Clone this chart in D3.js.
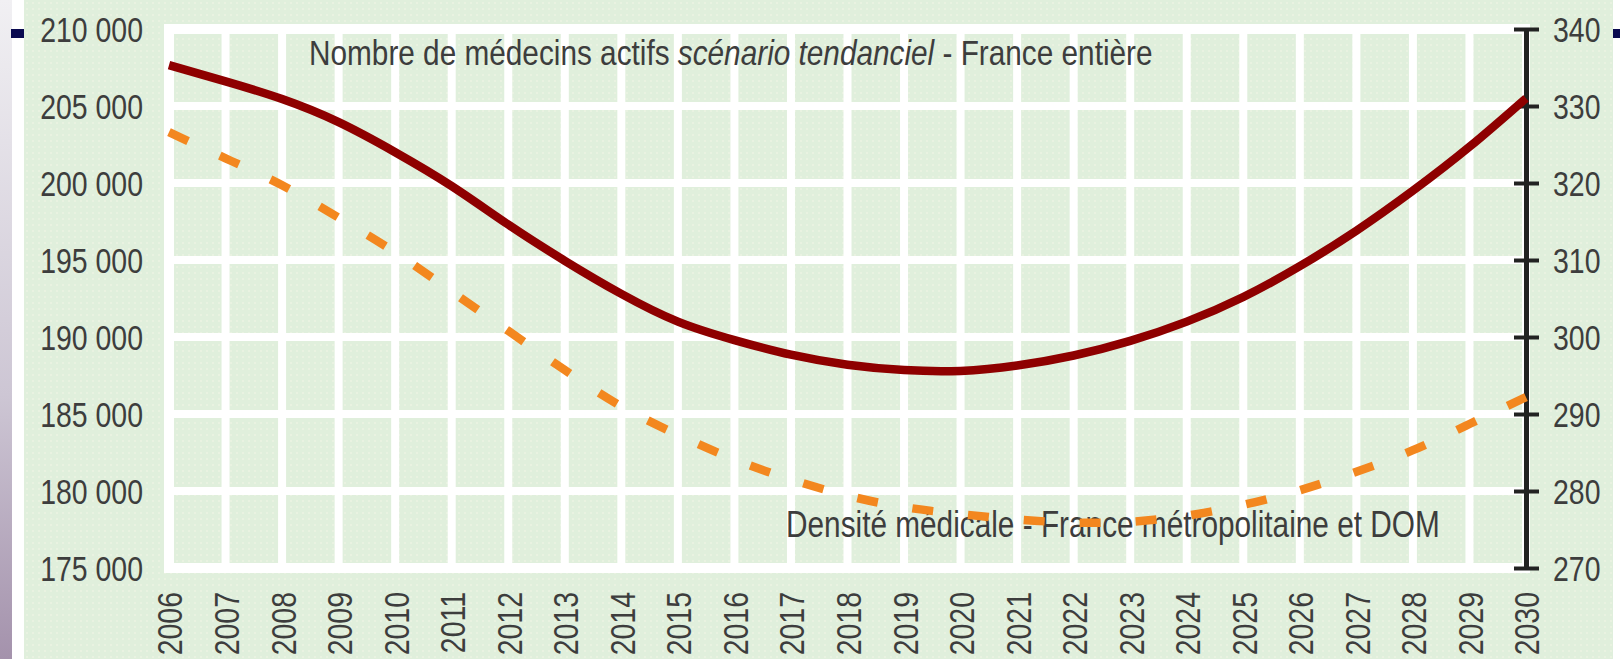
<!DOCTYPE html>
<html>
<head>
<meta charset="utf-8">
<script src="https://cdn.jsdelivr.net/npm/d3@7"></script>
<style>
  html, body { margin: 0; padding: 0; background: #fff; overflow: hidden; }
  svg { display: block; }
</style>
</head>
<body>
<div id="chart"></div>
<script>
// Médecins actifs (left axis) and densité médicale (right axis), 2006-2030
const years = ["2006", "2007", "2008", "2009", "2010", "2011", "2012", "2013", "2014", "2015",
    "2016", "2017", "2018", "2019", "2020", "2021", "2022", "2023", "2024", "2025",
    "2026", "2027", "2028", "2029", "2030"];

const medecins = [207650, 206600, 205450, 203950, 202000, 199800, 197300, 194950, 192800, 191000,
    189800, 188850, 188200, 187850, 187800, 188150, 188800, 189750, 191000, 192600,
    194600, 196900, 199500, 202350, 205500];

const densite = [326.6, 323.2, 319.7, 315.5, 311.0, 305.9, 300.8, 295.7, 291.0, 287.3,
    284.1, 281.5, 279.4, 277.9, 277.0, 276.3, 275.9, 276.0, 276.8, 278.2,
    280.1, 282.5, 285.3, 288.7, 292.2];

const leftTicks = [175000, 180000, 185000, 190000, 195000, 200000, 205000, 210000];
const rightTicks = [270, 280, 290, 300, 310, 320, 330, 340];

const titleMain = "Nombre de médecins actifs ";
const titleItalic = "scénario tendanciel";
const titleEnd = " - France entière";
const labelDensite = "Densité médicale - France métropolitaine et DOM";

const width = 1620;
const height = 659;
const plot = { left: 169, right: 1526, top: 29, bottom: 568 };
const textColor = "#3d3d3d";
const squeeze = 0.79; // narrow, tall lettering of the source

const fr = d3.formatLocale({ decimal: ",", thousands: " ", grouping: [3], currency: ["", " €"] });
const fmt = fr.format(",d");

const svg = d3.select("#chart")
    .append("svg")
    .attr("width", width)
    .attr("height", height)
    .style("font-family", "'Liberation Sans', Arial, sans-serif");

const defs = svg.append("defs");

// dotted pale green paper
const dots = defs.append("pattern")
    .attr("id", "dots")
    .attr("width", 6).attr("height", 6)
    .attr("patternUnits", "userSpaceOnUse");
dots.append("rect").attr("width", 6).attr("height", 6).attr("fill", "#e0efdc");
dots.append("rect").attr("x", 2).attr("y", 2).attr("width", 2).attr("height", 2).attr("fill", "#e9f2e1");

const edge = defs.append("linearGradient")
    .attr("id", "edge")
    .attr("x1", 0).attr("y1", 0).attr("x2", 0).attr("y2", 1);
edge.append("stop").attr("offset", "0%").attr("stop-color", "#f1f0f3");
edge.append("stop").attr("offset", "60%").attr("stop-color", "#cdc6d4");
edge.append("stop").attr("offset", "100%").attr("stop-color", "#a492ac");

// -- slide background --
svg.append("rect").attr("width", width).attr("height", height).attr("fill", "#fff");
svg.append("rect").attr("x", 0).attr("width", 12).attr("height", height).attr("fill", "url(#edge)");
svg.append("rect").attr("x", 24).attr("width", 1613 - 24).attr("height", height).attr("fill", "url(#dots)");
svg.append("rect").attr("x", 11).attr("y", 29).attr("width", 13).attr("height", 9).attr("fill", "#0a0a50");
svg.append("rect").attr("x", 1613).attr("y", 29).attr("width", 7).attr("height", 9).attr("fill", "#0a0a50");

// -- scales --
const x = d3.scalePoint().domain(years).range([plot.left, plot.right]);
const yL = d3.scaleLinear().domain([175000, 210000]).range([plot.bottom, plot.top]);
const yR = d3.scaleLinear().domain([270, 340]).range([plot.bottom, plot.top]);

// -- white grid --
const grid = svg.append("g").attr("stroke", "#fff");
grid.selectAll("line.v")
    .data(years)
    .join("line")
    .attr("class", "v")
    .attr("x1", d => x(d)).attr("x2", d => x(d))
    .attr("y1", plot.top - 5).attr("y2", plot.bottom + 5)
    .attr("stroke-width", (d, i) => i === 0 ? 10 : 8);
grid.selectAll("line.h")
    .data(leftTicks)
    .join("line")
    .attr("class", "h")
    .attr("x1", plot.left - 5).attr("x2", plot.right + 2)
    .attr("y1", d => yL(d)).attr("y2", d => yL(d))
    .attr("stroke-width", (d, i) => (i === 0 || i === leftTicks.length - 1) ? 10 : 8);

// -- left axis (labels only) --
const axisL = svg.append("g")
    .attr("transform", `translate(${plot.left},0)`)
    .call(d3.axisLeft(yL).tickValues(leftTicks).tickFormat(fmt).tickSize(0));
axisL.select(".domain").remove();
axisL.selectAll("text")
    .attr("x", 0)
    .attr("dy", "0.36em")
    .attr("transform", `translate(-26,0) scale(${squeeze},1)`)
    .attr("text-anchor", "end")
    .attr("fill", textColor)
    .style("font-size", "36px");

// -- right axis (black line with crossing ticks) --
const axisR = svg.append("g")
    .attr("transform", `translate(${plot.right},0)`)
    .call(d3.axisRight(yR).tickValues(rightTicks).tickSizeInner(13).tickSizeOuter(0));
axisR.select(".domain").attr("stroke", "#222").attr("stroke-width", 5);
axisR.selectAll(".tick line")
    .attr("x1", -12).attr("x2", 13)
    .attr("stroke", "#222").attr("stroke-width", 4);
axisR.selectAll("text")
    .attr("x", 0)
    .attr("dy", "0.36em")
    .attr("transform", `translate(27,0) scale(${squeeze},1)`)
    .attr("text-anchor", "start")
    .attr("fill", textColor)
    .style("font-size", "36px");

// -- bottom axis, vertical year labels --
const axisB = svg.append("g")
    .attr("transform", `translate(0,${plot.bottom})`)
    .call(d3.axisBottom(x).tickSize(0));
axisB.select(".domain").remove();
axisB.selectAll("text")
    .attr("x", 0).attr("y", 0)
    .attr("dy", "0.36em")
    .attr("transform", `translate(0,24) rotate(-90) scale(${squeeze},1)`)
    .attr("text-anchor", "end")
    .attr("fill", textColor)
    .style("font-size", "36px");

// -- series labels, squeezed to the source widths --
function placeLabel(textSel, left, baseline, targetWidth) {
    const natural = textSel.node().getComputedTextLength();
    textSel.attr("transform", `translate(${left},${baseline}) scale(${targetWidth / natural},1)`);
}

const title = svg.append("text")
    .attr("fill", textColor)
    .style("font-size", "36px");
title.append("tspan").text(titleMain);
title.append("tspan").style("font-style", "italic").text(titleItalic);
title.append("tspan").text(titleEnd);
placeLabel(title, 309, 65, 844);

const densLabel = svg.append("text")
    .attr("fill", textColor)
    .style("font-size", "36px")
    .text(labelDensite);
placeLabel(densLabel, 786, 537, 654);

// -- series --
const lineMed = d3.line()
    .x((d, i) => x(years[i]))
    .y(d => yL(d))
    .curve(d3.curveNatural);

const lineDens = d3.line()
    .x((d, i) => x(years[i]))
    .y(d => yR(d))
    .curve(d3.curveNatural);

svg.append("path")
    .datum(medecins)
    .attr("d", lineMed)
    .attr("fill", "none")
    .attr("stroke", "#8e0000")
    .attr("stroke-width", 8.5)
    .attr("stroke-linejoin", "round");

svg.append("path")
    .datum(densite)
    .attr("d", lineDens)
    .attr("fill", "none")
    .attr("stroke", "#f3871f")
    .attr("stroke-width", 8.5)
    .attr("stroke-dasharray", "21,35");
</script>
</body>
</html>
